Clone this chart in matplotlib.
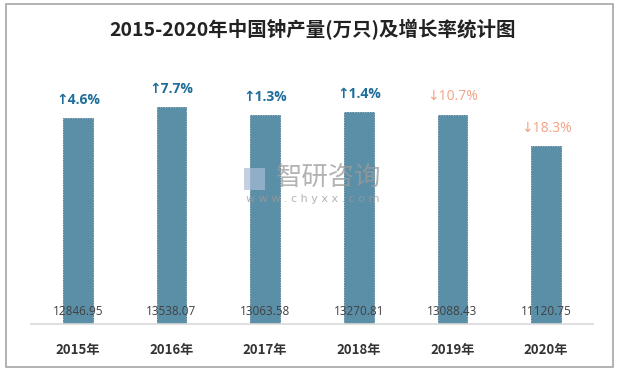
import matplotlib
matplotlib.use("Agg")
import matplotlib.pyplot as plt
from matplotlib.patches import Rectangle

years = ["2015年", "2016年", "2017年", "2018年", "2019年", "2020年"]
output = [12846.95, 13538.07, 13063.58, 13270.81, 13088.43, 11120.75]
growth = [4.6, 7.7, 1.3, 1.4, -10.7, -18.3]
title = "2015-2020年中国钟产量(万只)及增长率统计图"

W, H = 626, 373
fig = plt.figure(figsize=(W / 100, H / 100), dpi=100)
fig.patch.set_facecolor("white")

# outer frame
fig.patches.append(Rectangle((6 / W, (H - 367) / H), (613 - 6) / W, (367 - 4) / H,
                             transform=fig.transFigure, fill=False,
                             edgecolor="#A6A6A6", linewidth=1.2))

ax = fig.add_axes([31 / W, (H - 324) / H, (593 - 31) / W, (324 - 68) / H])
x = list(range(len(years)))
ax.bar(x, output, width=0.32, color="#5B8FA8", edgecolor="#4A7A93",
       linewidth=0.6, linestyle=(0, (2, 1)))
ax.set_xlim(-0.5, 5.5)
ax.set_ylim(0, 16000)
for s in ["top", "right", "left"]:
    ax.spines[s].set_visible(False)
ax.spines["bottom"].set_color("#D9D9D9")
ax.spines["bottom"].set_linewidth(1.2)
ax.set_yticks([])
ax.set_xticks(x)
ax.set_xticklabels(years, fontsize=9.5, fontweight="bold", color="#333333",
                   family=["Noto Sans CJK SC", "DejaVu Sans"])
ax.tick_params(axis="x", length=0, pad=14)

for xi, v in zip(x, output):
    ax.text(xi, 800, f"{v:.2f}", ha="center", va="center", fontsize=8.5,
            color="#404040", family=["Open Sans", "DejaVu Sans"])

for xi, v, g in zip(x, output, growth):
    if g >= 0:
        s, c, fw = f"↑{g:.1f}%", "#1F6E99", "bold"
    else:
        s, c, fw = f"↓{abs(g):.1f}%", "#F3A283", "normal"
    ax.annotate(s, (xi, v), xytext=(0, 13), textcoords="offset points",
                ha="center", va="center", fontsize=10, color=c, fontweight=fw,
                family=["Open Sans", "DejaVu Sans"])

fig.text(0.5, (H - 30) / H, title, ha="center", va="center", fontsize=14,
         fontweight="bold", color="#222222",
         family=["Noto Sans CJK SC", "DejaVu Sans"])

# watermark
fig.text(329 / W, (H - 177) / H, "智研咨询", ha="center", va="center", fontsize=19,
         color="#9A9A9A", alpha=0.75, family=["Noto Sans CJK SC"])
fig.text(313 / W, (H - 199) / H, "w w w . c h y x x . c o m", ha="center", va="center",
         fontsize=8, color="#9A9A9A", alpha=0.75, family=["DejaVu Sans"])
fig.patches.append(Rectangle((244 / W, (H - 190) / H), 21 / W, 22 / H,
                             transform=fig.transFigure, facecolor="#A8BCD6",
                             edgecolor="none", alpha=0.7))

fig.savefig("out.png", dpi=100, facecolor="white")
